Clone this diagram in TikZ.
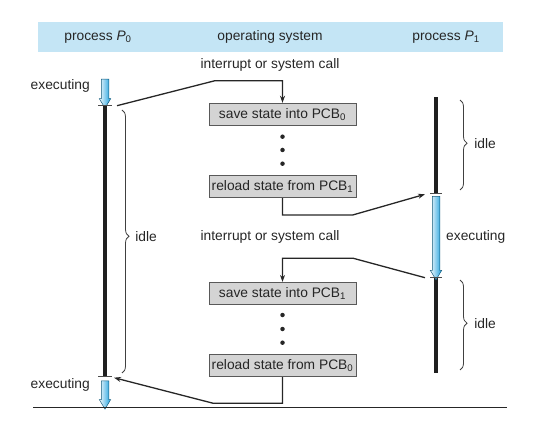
\documentclass[tikz,border=0pt]{standalone}
\usepackage{fontspec}
\setmainfont{Liberation Sans}
\usetikzlibrary{arrows.meta,positioning,shapes.arrows,decorations.pathreplacing}
\definecolor{bandblue}{RGB}{196,229,245}
\definecolor{execblue}{RGB}{28,160,222}
\definecolor{boxgray}{RGB}{212,212,212}
\tikzset{
  lbl/.style={font=\fontsize{13.8}{16}\selectfont, text=black!85, inner sep=0pt},
  pcbbox/.style={rectangle, draw=black!65, line width=0.9pt, fill=boxgray,
    minimum width=147pt, minimum height=22.5pt, inner sep=0pt,
    font=\fontsize{13.8}{16}\selectfont, text=black!85},
  cpuline/.style={line width=3.2pt, black!88},
  tickmark/.style={line width=0.8pt, black!70},
  execarrow/.style={single arrow, draw=black!45!execblue, line width=0.5pt,
    rotate=-90, left color=execblue!6, right color=execblue,
    inner xsep=0pt, inner ysep=3.5pt, minimum width=11pt,
    single arrow head extend=2pt, single arrow tip angle=62},
  ctlarrow/.style={-{Stealth[length=7pt,width=5pt]}, line width=1.3pt, black!85},
  idlebrace/.style={decorate, decoration={brace, amplitude=7pt, aspect=0.48},
    line width=0.8pt, black!75},
  pcbdot/.style={circle, fill=black!85, inner sep=0pt, minimum size=4.5pt},
}
\begin{document}
\begin{tikzpicture}[x=1pt, y=1pt, node distance=48.5pt]
\useasboundingbox (0,0) rectangle (559,434);

% column headings
\fill[bandblue] (38,382) rectangle (503,412);
\node[lbl] (headP0) at (98,397) {process \textit{P}\textsubscript{0}};
\node[lbl] (headOS) at (270,397) {operating system};
\node[lbl] (headP1) at (446,397) {process \textit{P}\textsubscript{1}};

% process P0
\node[execarrow, minimum height=29pt] (p0run) at (105,343.5) {};
\coordinate (p0top) at (105,328.3);
\coordinate (p0bot) at (105,57.3);
\draw[cpuline] (p0top) -- (p0bot);
\draw[tickmark] ([xshift=-7pt]p0top) -- ([xshift=7pt]p0top);
\draw[tickmark] ([xshift=-7pt]p0bot) -- ([xshift=7pt]p0bot);
\node[execarrow, minimum height=28.3pt] (p0rerun) at (105,42.2) {};
\node[lbl, anchor=east] (exec0) at (90,348.3) {executing};
\node[lbl, anchor=east] (exec0b) at (90,49) {executing};
\draw[idlebrace] (122,324) -- node[lbl, pos=0.48, right=13pt] (idle0) {idle} (122,61);

% process P1
\coordinate (p1top) at (436,336.7);
\coordinate (p1mid) at (436,240.7);
\coordinate (p1low) at (436,156.3);
\coordinate (p1bot) at (436,61.3);
\draw[cpuline] (p1top) -- (p1mid);
\draw[cpuline] (p1low) -- (p1bot);
\node[execarrow, minimum height=83.4pt] (p1run) at (436,199) {};
\draw[tickmark] ([xshift=-6pt]p1mid) -- ([xshift=6pt]p1mid);
\draw[tickmark] ([xshift=-6pt]p1low) -- ([xshift=6pt]p1low);
\node[lbl, anchor=west] (exec1) at (446,197.3) {executing};
\draw[idlebrace] (460,334) -- node[lbl, pos=0.48, right=14pt] (idle1a) {idle} (460,244);
\draw[idlebrace] (460,154) -- node[lbl, pos=0.48, right=14pt] (idle1b) {idle} (460,64);

% operating system
\node[lbl] (call0) at (270,369) {interrupt or system call};
\node[pcbbox] (save0) at (282.5,319.5) {save state into PCB\textsubscript{0}};
\node[pcbbox, below=of save0] (reload1) {reload state from PCB\textsubscript{1}};
\node[lbl] (call1) at (270,197.3) {interrupt or system call};
\node[pcbbox] (save1) at (282.5,140.4) {save state into PCB\textsubscript{1}};
\node[pcbbox, below=of save1] (reload0) {reload state from PCB\textsubscript{0}};
\foreach \k/\y in {1/297.3,2/284,3/270.3}
  \node[pcbdot] (dotA\k) at (282.5,\y) {};
\foreach \k/\y in {1/119,2/105,3/91.3}
  \node[pcbdot] (dotB\k) at (282.5,\y) {};

% control transfers
\coordinate (bend1) at (215,353.3);
\coordinate (bend2) at (352.7,219);
\coordinate (bend3) at (353.3,175.7);
\coordinate (bend4) at (213.3,30.7);
\draw[ctlarrow] ([xshift=12pt]p0top) -- (bend1) -| (save0.north);
\draw[ctlarrow] (reload1.south) |- (bend2) -- ([xshift=-11pt,yshift=-1pt]p1mid);
\draw[ctlarrow] ([xshift=-11pt]p1low) -- (bend3) -| (save1.north);
\draw[ctlarrow] (reload0.south) |- (bend4) -- ([xshift=9pt,yshift=-1pt]p0bot);

% time axis
\coordinate (axisL) at (33,26.5);
\coordinate (axisR) at (507,26.5);
\draw[line width=1.6pt, black!85] (axisL) -- (axisR);
\end{tikzpicture}
\end{document}
